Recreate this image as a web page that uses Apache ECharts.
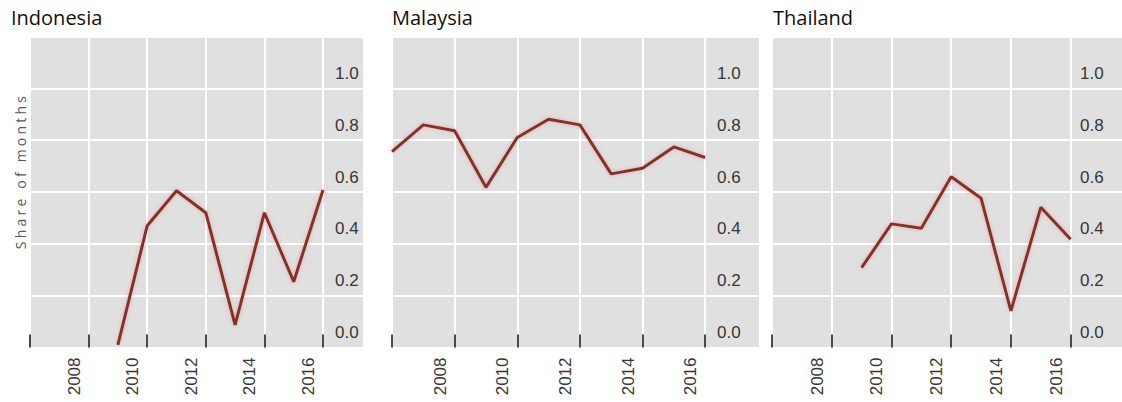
<!DOCTYPE html>
<html>
<head>
<meta charset="utf-8">
<script src="https://cdn.jsdelivr.net/npm/echarts@6/dist/echarts.min.js"></script>
<style>
  html, body { margin: 0; padding: 0; background: #ffffff; }
  #chart { width: 1122px; height: 402px; }
  /* spaced-out lettering for the y axis title */
  #chart text[fill="#5a5a5a"] { letter-spacing: 3.2px; }
</style>
</head>
<body>
<div id="chart"></div>
<script>
// Yearly share of months, 2006-2016
const years     = [2006, 2007, 2008, 2009, 2010, 2011, 2012, 2013, 2014, 2015, 2016];
const indonesia = [null, null, null, 0.01, 0.47, 0.605, 0.52, 0.087, 0.52, 0.254, 0.608];
const malaysia  = [0.756, 0.859, 0.836, 0.618, 0.81, 0.881, 0.859, 0.67, 0.692, 0.774, 0.733];
const thailand  = [null, null, null, 0.308, 0.477, 0.46, 0.659, 0.576, 0.141, 0.541, 0.418];

const countryNames = ['Indonesia', 'Malaysia', 'Thailand'];
const yearTicks    = [2006, 2008, 2010, 2012, 2014, 2016];
const yearLabels   = [2008, 2010, 2012, 2014, 2016];
const shareLabels  = [0, 0.2, 0.4, 0.6, 0.8, 1.0];
const yAxisTitle   = 'Share of months';

const seriesValues = [indonesia, malaysia, thailand];

// panel geometry
const panels = [
  { left: 30,  width: 333, xMax: 2017.365, labelMargin: 28, titleLeft: 11 },
  { left: 392, width: 367, xMax: 2017.72,  labelMargin: 42, titleLeft: 392 },
  { left: 772, width: 367, xMax: 2017.72,  labelMargin: 42, titleLeft: 773 }
];

const LINE_COLOR = '#83302c';
const BG = '#e0e0e0';
const TEXT = '#363636';

const grids = [], xAxes = [], yAxes = [], series = [], titles = [];

panels.forEach((p, i) => {
  grids.push({
    left: p.left, top: 36.5, width: p.width, height: 311,
    show: true, backgroundColor: BG, borderWidth: 0
  });
  xAxes.push({
    type: 'value', gridIndex: i, min: 2006, max: p.xMax, interval: 2,
    axisLine: { show: false },
    axisTick: {
      show: true, inside: true, length: 13, customValues: yearTicks,
      lineStyle: { color: '#4a4a4a', width: 2 }
    },
    axisLabel: {
      customValues: yearLabels, rotate: 90, margin: 10,
      verticalAlign: 'bottom', lineHeight: 29,
      fontFamily: '"Liberation Sans", Arial, sans-serif', fontSize: 17, color: TEXT,
      formatter: v => String(v)
    },
    splitLine: { show: true, lineStyle: { color: '#ffffff', width: 2 } }
  });
  yAxes.push({
    type: 'value', gridIndex: i, position: 'right', min: 0, max: 1.2, interval: 0.2,
    axisLine: { show: false },
    axisTick: { show: false },
    axisLabel: {
      inside: true, align: 'left', margin: p.labelMargin,
      customValues: shareLabels,
      verticalAlign: 'bottom', lineHeight: 30,
      fontFamily: '"Liberation Sans", Arial, sans-serif', fontSize: 17, color: TEXT,
      formatter: v => v.toFixed(1)
    },
    splitLine: { show: true, lineStyle: { color: '#ffffff', width: 2 } }
  });
  const pts = [];
  years.forEach((yr, k) => {
    const v = seriesValues[i][k];
    if (v !== null) pts.push([yr, v]);
  });
  series.push({
    type: 'line', name: countryNames[i], xAxisIndex: i, yAxisIndex: i,
    data: pts, showSymbol: false, silent: true,
    lineStyle: {
      color: LINE_COLOR, width: 3,
      shadowColor: 'rgba(240,130,130,0.6)', shadowBlur: 4
    }
  });
  titles.push({
    text: countryNames[i], left: p.titleLeft, top: 7, padding: 0,
    textStyle: { fontFamily: '"Open Sans", sans-serif', fontSize: 20, fontWeight: 'normal', color: '#111111' }
  });
});

const chart = echarts.init(document.getElementById('chart'), null, { renderer: 'svg' });
chart.setOption({
  animation: false,
  title: titles,
  grid: grids,
  xAxis: xAxes,
  yAxis: yAxes,
  series: series,
  graphic: [{
    type: 'text', x: 20, y: 171, rotation: Math.PI / 2,
    style: {
      text: yAxisTitle, fill: '#5a5a5a',
      fontFamily: '"Open Sans", sans-serif', fontSize: 14,
      align: 'center', verticalAlign: 'middle'
    }
  }]
});
</script>
</body>
</html>
